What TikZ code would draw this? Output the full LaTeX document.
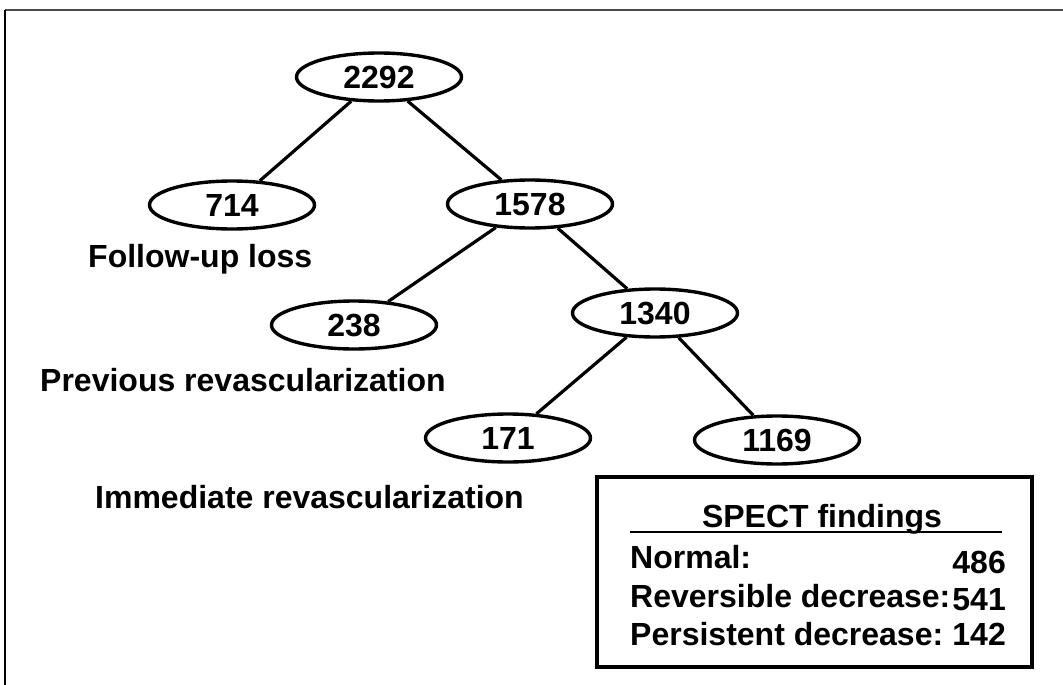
\documentclass[tikz,border=0pt]{standalone}
\usepackage{fontspec}
\setmainfont{Liberation Sans}
\usetikzlibrary{shapes.geometric}
\begin{document}
\begin{tikzpicture}[x=1pt,y=-1pt,
  num/.style={draw,line width=3.4pt,ellipse,minimum width=165pt,minimum height=48pt,inner sep=0pt,
    text depth=0pt,font=\fontsize{32}{38}\selectfont\bfseries},
  lbl/.style={font=\fontsize{32}{38}\selectfont\bfseries,inner sep=0pt,anchor=base},
  btxt/.style={font=\fontsize{32}{38}\selectfont\bfseries,inner sep=0pt},
  conn/.style={line width=3.2pt}]
\useasboundingbox (0,0) rectangle (1063,685);
% partial outer frame
\coordinate (ftl) at (5,10);
\coordinate (ftr) at (1063,10);
\coordinate (fbl) at (5,685);
\draw[line width=2pt,black!70] (ftl) -- (ftr);
\draw[line width=2pt] (ftl) -- (fbl);
% tree
\node[num] (n2292) at (379,77) {2292};
\node[num] (n714) at (232,205) {714};
\node[num] (n1578) at (530,204) {1578};
\node[num] (n238) at (354,325) {238};
\node[num] (n1340) at (655,313) {1340};
\node[num] (n171) at (508,438) {171};
\node[num] (n1169) at (777,440) {1169};
\draw[conn] (n2292) -- (n714);
\draw[conn] (n2292) -- (n1578);
\draw[conn] (n1578) -- (n238);
\draw[conn] (n1578) -- (n1340);
\draw[conn] (n1340) -- (n171);
\draw[conn] (n1340) -- (n1169);
% labels
\node[lbl,anchor=base west] (l1) at (88,267) {Follow-up loss};
\node[lbl,anchor=base west] (l2) at (40,391) {Previous revascularization};
\node[lbl,anchor=base west] (l3) at (95,508) {Immediate revascularization};
% SPECT box
\coordinate (bx1) at (597,477);
\coordinate (bx2) at (1032,667);
\draw[line width=3.2pt] (bx1) rectangle (bx2);
\node[btxt,anchor=base] (title) at (822,527) {SPECT findings};
\coordinate (ul1) at (630,532);
\coordinate (ul2) at (1002,532);
\draw[line width=2.4pt] (ul1) -- (ul2);
\node[btxt,anchor=base west] (r1) at (630,568) {Normal:};
\node[btxt,anchor=base east] (v1) at (1006,573) {486};
\node[btxt,anchor=base west] (r2) at (630,607) {Reversible decrease:};
\node[btxt,anchor=base east] (v2) at (1006,610) {541};
\node[btxt,anchor=base west] (r3) at (630,645) {Persistent decrease:};
\node[btxt,anchor=base east] (v3) at (1006,645) {142};
\end{tikzpicture}
\end{document}
